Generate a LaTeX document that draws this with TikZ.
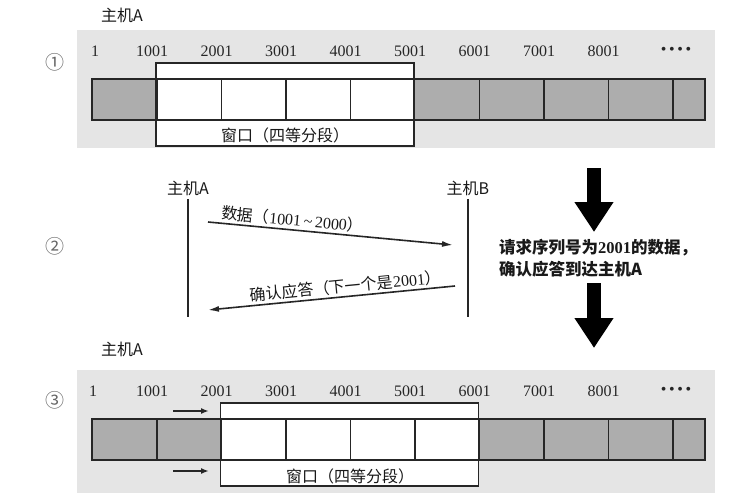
\documentclass[tikz,border=0pt]{standalone}
\usepackage{fontspec}
\setmainfont{Liberation Serif}
\newfontfamily\cjk{Noto Sans CJK SC}
\usetikzlibrary{arrows.meta, positioning, calc}

\begin{document}
\begin{tikzpicture}[x=1pt, y=-1pt,
  panel/.style={fill=black!10},
  seg/.style={fill=black!32},
  barline/.style={draw=black!85, line width=1.5pt},
  winbox/.style={draw=black!85, line width=1.4pt},
  num/.style={font=\fontsize{16}{18}\selectfont, text=black!85},
  lbl/.style={font=\cjk\fontsize{16}{18}\selectfont, text=black!90},
  circnum/.style={font=\cjk\fontsize{19}{20}\selectfont, text=black!60},
  life/.style={line width=1.8pt, black!85},
  msg/.style={-{Latex[length=11pt,width=6pt]}, line width=1.6pt, black!85},
  slidearrow/.style={-{Latex[length=8pt,width=6pt]}, line width=1.6pt, black!85},
  bigdown/.style={line width=14pt, -{Triangle[length=30pt,width=37pt]}}]
\useasboundingbox (0,0) rectangle (745,493);

% Step 1: window at 1001-5001
\node[circnum] (c1) at (55,62) {①};
\node[lbl] (hA1) at (122,15) {主机A};
\fill[panel] (77,30) rectangle (715,148);
\fill[seg] (92,79) rectangle (705,120);
\fill[white] (156,63) rectangle (414,146);
\draw[barline] (92,79) rectangle (705,120);
\foreach \x in {157,221.5,286,350.5,479.5,544,608.5,673}
  \draw[barline] (\x,79) -- (\x,120);
\draw[winbox] (156,63) rectangle (414,146);
\node[lbl] (w1) at (285,135) {窗口（四等分段）};
\node[num] (na0) at (95,51) {1};
\foreach \k in {1,...,8} {
  \pgfmathtruncatemacro\v{1000*\k+1}
  \node[num] (na\k) at ({152+64.5*(\k-1)},51) {\v};
}
\node[num] (na9) at (676,51) {\textbullet\,\textbullet\,\textbullet\,\textbullet};

% Step 2: data and acknowledgement
\node[circnum] (c2) at (55,246) {②};
\node[lbl] (hA) at (188,188) {主机A};
\node[lbl] (hB) at (468,188) {主机B};
\draw[life] (hA.south) -- ++(0,118);
\draw[life] (hB.south) -- ++(0,118);
\coordinate (d0) at (208,222);
\coordinate (d1) at (453,245);
\coordinate (k0) at (455,286);
\coordinate (k1) at (208,310);
\draw[msg] (d0) -- node[lbl, above, sloped, pos=0.34, inner sep=2pt] (dlbl)
  {数据（{\rmfamily 1001\,\textasciitilde\,2000}）} (d1);
\draw[msg] (k0) -- node[lbl, above, sloped, pos=0.44, inner sep=2pt] (klbl)
  {确认应答（下一个是{\rmfamily 2001}）} (k1);

\draw[bigdown] (594,168) -- (594,232);
\node[lbl, font=\cjk\bfseries\fontsize{16.5}{22}\selectfont, anchor=north west,
  align=left, inner sep=0pt] (req) at (499,239)
  {请求序列号为{\rmfamily\bfseries 2001}的数据，\\确认应答到达主机A};
\draw[bigdown] (594,283) -- (594,348);

% Step 3: window slides to 2001-6001
\begin{scope}[shift={(0,340)}]
\node[circnum] (c3) at (55,60) {③};
\node[lbl] (hA3) at (122,9) {主机A};
\fill[panel] (77,30) rectangle (715,153);
\fill[seg] (92,79) rectangle (705,120);
\fill[white] (220.5,63) rectangle (478.5,146);
\draw[barline] (92,79) rectangle (705,120);
\foreach \x in {157,221.5,286,350.5,415,479.5,544,608.5,673}
  \draw[barline] (\x,79) -- (\x,120);
\draw[winbox] (220.5,63) rectangle (478.5,146);
\node[lbl] (w3) at (350,136) {窗口（四等分段）};
\node[num] (nc0) at (93,51) {1};
\foreach \k in {1,...,8} {
  \pgfmathtruncatemacro\v{1000*\k+1}
  \node[num] (nc\k) at ({152+64.5*(\k-1)},51) {\v};
}
\node[num] (nc9) at (676,51) {\textbullet\,\textbullet\,\textbullet\,\textbullet};
\coordinate (s0) at (173,71);
\coordinate (s1) at (209,71);
\coordinate (t0) at (173,131);
\coordinate (t1) at (209,131);
\draw[slidearrow] (s0) -- (s1);
\draw[slidearrow] (t0) -- (t1);
\end{scope}
\end{tikzpicture}
\end{document}
